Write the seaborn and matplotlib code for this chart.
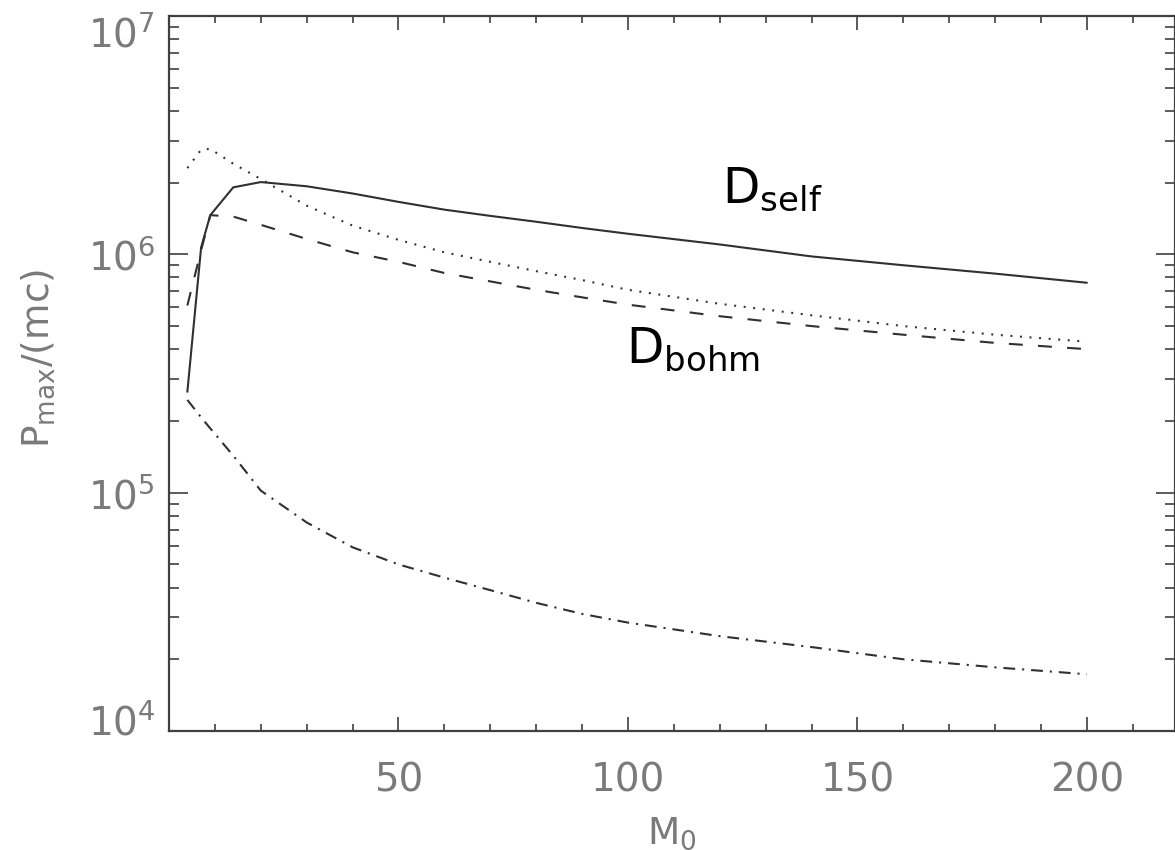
import numpy as np
import pandas as pd
import matplotlib
matplotlib.use("Agg")
import matplotlib.pyplot as plt
import matplotlib.transforms as mtransforms
import seaborn as sns
from matplotlib.ticker import MultipleLocator, LogLocator, NullFormatter

# ---------------- data ----------------
m0_grid = [4, 7, 9, 14, 20, 30, 40, 50, 60, 70, 80, 90, 100, 120, 140, 160, 180, 200]

p_self = [2.65e5, 1.07e6, 1.46e6, 1.91e6, 2.01e6, 1.93e6, 1.80e6, 1.66e6, 1.54e6,
          1.45e6, 1.37e6, 1.29e6, 1.22e6, 1.10e6, 0.98e6, 0.90e6, 0.83e6, 0.76e6]

p_dotted = [2.30e6, 2.75e6, 2.77e6, 2.40e6, 2.07e6, 1.60e6, 1.32e6, 1.15e6, 1.02e6,
            0.93e6, 0.85e6, 0.78e6, 0.71e6, 0.62e6, 0.555e6, 0.50e6, 0.46e6, 0.43e6]

p_bohm = [6.1e5, 1.04e6, 1.46e6, 1.44e6, 1.33e6, 1.16e6, 1.02e6, 0.93e6, 0.835e6,
          0.77e6, 0.71e6, 0.66e6, 0.615e6, 0.55e6, 0.50e6, 0.46e6, 0.425e6, 0.40e6]

p_dashdot = [2.45e5, 2.07e5, 1.86e5, 1.43e5, 1.02e5, 7.5e4, 5.9e4, 5.0e4, 4.4e4,
             3.9e4, 3.45e4, 3.1e4, 2.85e4, 2.5e4, 2.25e4, 2.0e4, 1.85e4, 1.73e4]

curve_names = ["self", "dotted", "bohm", "dashdot"]
x_major_ticks = [50, 100, 150, 200]
y_major_ticks = [1e4, 1e5, 1e6, 1e7]
y_tick_labels = ["$10^{4}$", "$10^{5}$", "$10^{6}$", "$10^{7}$"]

df = pd.concat([
    pd.DataFrame({"M0": m0_grid, "P": vals, "curve": name})
    for name, vals in zip(curve_names, [p_self, p_dotted, p_bohm, p_dashdot])
], ignore_index=True)

# ---------------- style ----------------
sns.set_style("ticks")
plt.rcParams["font.family"] = ["DejaVu Sans"]
plt.rcParams["mathtext.default"] = "regular"
plt.rcParams["lines.scale_dashes"] = False

line_col = "#303030"
tick_txt = "#7a7a7a"
axis_col = "#404040"

fig = plt.figure(figsize=(11.75, 8.5), dpi=100)
ax = fig.add_axes([169 / 1175, 119 / 850, 1006 / 1175, 715 / 850])

dash_map = {"self": "", "dotted": (1.4, 5.5), "bohm": (10, 11), "dashdot": (8.5, 5, 1.5, 5)}
sns.lineplot(data=df, x="M0", y="P", style="curve", dashes=dash_map,
             color=line_col, linewidth=1.5, legend=False, ax=ax,
             sort=False, estimator=None)

ax.set_yscale("log")
ax.set_ylim(1e4, 1e7)
ax.set_xlim(0, 219.2)

ax.set_xticks(x_major_ticks)
ax.set_xticklabels([str(t) for t in x_major_ticks])
ax.xaxis.set_minor_locator(MultipleLocator(10))
ax.set_yticks(y_major_ticks)
ax.set_yticklabels(y_tick_labels)
ax.yaxis.set_minor_locator(LogLocator(base=10, subs=np.arange(2, 10)))
ax.yaxis.set_minor_formatter(NullFormatter())

ax.tick_params(which="both", direction="in", top=True, right=True, color=axis_col)
ax.tick_params(axis="x", which="major", length=10, width=1.2, pad=22,
               labelsize=28, labelcolor=tick_txt)
ax.tick_params(axis="x", which="minor", length=5, width=1.2)
ax.tick_params(axis="y", which="major", length=13.5, width=1.2, pad=10,
               labelsize=28, labelcolor=tick_txt)
ax.tick_params(axis="y", which="minor", length=7, width=1.2)
for s in ax.spines.values():
    s.set_linewidth(1.6)
    s.set_color(axis_col)

# end labels of the log axis sit inside the frame, as in the reference
yticks = ax.yaxis.get_major_ticks()
shift_px = {0: 12, 3: -15}
for i, d in shift_px.items():
    lab = yticks[i].label1
    lab.set_transform(lab.get_transform() +
                      mtransforms.ScaledTranslation(0, d / 100, fig.dpi_scale_trans))

ax.set_xlabel("")
ax.set_ylabel("")

fig.text(38 / 1175, 1 - 358 / 850, "P$_{max}$/(mc)", rotation=90,
         ha="center", va="center", fontsize=27, color=tick_txt)
fig.text(672 / 1175, 6 / 850, "M$_0$", ha="center", va="baseline",
         fontsize=27, color=tick_txt)

ax.text(120.5, 1.64e6, "D$_{self}$", fontsize=35, ha="left", va="baseline", color="black")
ax.text(99.5, 3.5e5, "D$_{bohm}$", fontsize=35, ha="left", va="baseline", color="black")

fig.savefig("out.png", dpi=100)
